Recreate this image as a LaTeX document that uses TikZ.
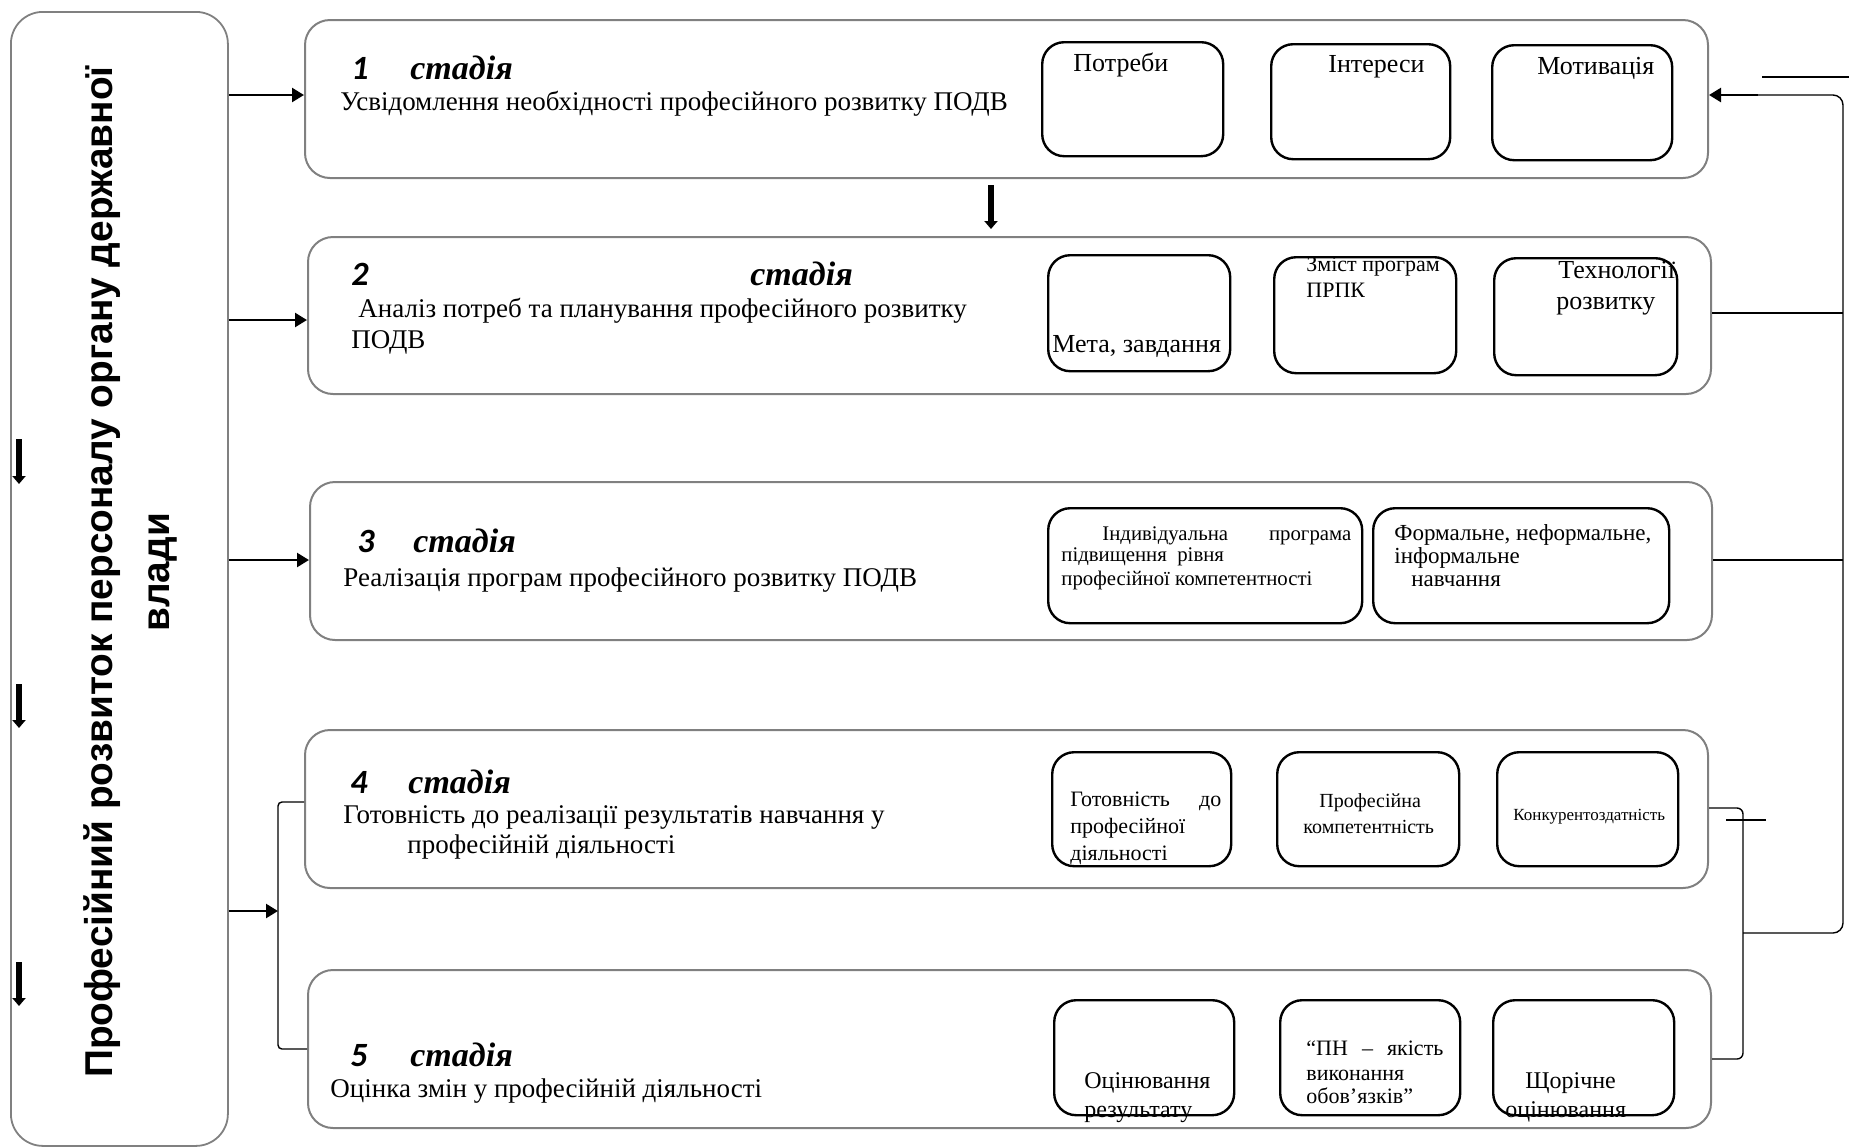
\documentclass[tikz,border=0pt]{standalone}
\usepackage{fontspec}
\setmainfont{Liberation Serif}
\newfontfamily\digf{Carlito}
\newfontfamily\arialf{Liberation Sans}
\usetikzlibrary{arrows.meta}
\definecolor{bgray}{RGB}{128,128,128}
\newcommand\bodyf{\fontsize{13.5}{16}\selectfont}
\newcommand\stlab[2]{\makebox[#1][l]{\digf\bfseries\itshape\fontsize{17}{19}\selectfont #2}{\bfseries\itshape\fontsize{17}{20}\selectfont стадія}}
\begin{document}
\begin{tikzpicture}[x=0.5pt,y=-0.5pt,
  stagebox/.style={draw=bgray, line width=1pt, rounded corners=12.5pt, anchor=north west, inner sep=0pt, minimum width=701.5pt, minimum height=79pt},
  lbox/.style={draw=bgray, line width=0.9pt, rounded corners=16pt, anchor=north west, inner sep=0pt},
  ibox/.style={draw=black, line width=1.2pt, rounded corners=11pt, anchor=north west, inner sep=0pt},
  txt/.style={anchor=base west, inner sep=0pt},
  arr/.style={line width=1.2pt, -{Triangle[length=6pt,width=7pt]}},
  conn/.style={line width=0.7pt},
  bigarr/.style={line width=3pt, -{Triangle[length=4pt,width=6.5pt]}}]
\useasboundingbox (0,0) rectangle (1849,1147);

% left box
\node[lbox, minimum width=108.5pt, minimum height=567pt] (L) at (10,11) {};
\node[rotate=90, align=center, inner sep=0pt, font=\arialf\bfseries\fontsize{19.4}{28.5}\selectfont] (LT) at (130,572) {Професійний розвиток персоналу органу державної\\влади};
\coordinate (d1a) at (19,439); \coordinate (d1b) at (19,484);
\coordinate (d2a) at (19,684); \coordinate (d2b) at (19,728);
\coordinate (d3a) at (19,962); \coordinate (d3b) at (19,1006);
\draw[bigarr] (d1a) -- (d1b);
\draw[bigarr] (d2a) -- (d2b);
\draw[bigarr] (d3a) -- (d3b);

% stage boxes
\node[stagebox] (S1) at (304,19) {};
\node[stagebox, minimum height=78.5pt] (S2) at (307,236) {};
\node[stagebox, minimum width=701pt] (S3) at (309,481) {};
\node[stagebox] (S4) at (304,729) {};
\node[stagebox] (S5) at (307,969) {};

% inner boxes
\node[ibox, minimum width=90.5pt, minimum height=57pt] (B11) at (1041,41) {};
\node[ibox, minimum width=89.5pt, minimum height=57.5pt] (B12) at (1270,43) {};
\node[ibox, minimum width=90pt, minimum height=57.5pt] (B13) at (1491,44) {};
\node[ibox, minimum width=91pt, minimum height=58pt] (B21) at (1047,254) {};
\node[ibox, minimum width=91pt, minimum height=58pt] (B22) at (1273,256) {};
\node[ibox, minimum width=91.5pt, minimum height=58.5pt] (B23) at (1493,257) {};
\node[ibox, minimum width=157pt, minimum height=57.5pt] (B31) at (1047,507) {};
\node[ibox, minimum width=148pt, minimum height=57.5pt] (B32) at (1372,507) {};
\node[ibox, minimum width=89.5pt, minimum height=57pt] (B41) at (1051,751) {};
\node[ibox, minimum width=91pt, minimum height=57pt] (B42) at (1276,751) {};
\node[ibox, minimum width=90.5pt, minimum height=57pt] (B43) at (1496,751) {};
\node[ibox, minimum width=90pt, minimum height=57.5pt] (B51) at (1053,999) {};
\node[ibox, minimum width=90pt, minimum height=57.5pt] (B52) at (1279,999) {};
\node[ibox, minimum width=90.5pt, minimum height=57.5pt] (B53) at (1492,999) {};

% stage texts
\node[txt] (s1l) at (351,79) {\stlab{29.5pt}{1}};
\node[txt, font=\bodyf] (s1t) at (340,110) {Усвідомлення необхідності професійного розвитку ПОДВ};
\node[txt] (s2l) at (351,285) {\stlab{199.5pt}{2}};
\node[txt, font=\bodyf] (s2t) at (358,317) {Аналіз потреб та планування професійного розвитку};
\node[txt, font=\bodyf] (s2u) at (351,348) {ПОДВ};
\node[txt] (s3l) at (357,552) {\stlab{28pt}{3}};
\node[txt, font=\bodyf] (s3t) at (343,586) {Реалізація програм професійного розвитку ПОДВ};
\node[txt] (s4l) at (350,793) {\stlab{29pt}{4}};
\node[txt, font=\bodyf] (s4t) at (343,823) {Готовність до реалізації результатів навчання у};
\node[txt, font=\bodyf] (s4u) at (407,853) {професійній діяльності};
\node[txt] (s5l) at (350,1066) {\stlab{30pt}{5}};
\node[txt, font=\bodyf] (s5t) at (330,1097) {Оцінка змін у професійній діяльності};

% inner texts
\node[txt, font=\fontsize{13}{15}\selectfont] (t11) at (1073,71) {Потреби};
\node[txt, font=\fontsize{13}{15}\selectfont] (t12) at (1328,72) {Інтереси};
\node[txt, font=\fontsize{13}{15}\selectfont] (t13) at (1537,74) {Мотивація};
\node[txt, font=\fontsize{13}{15}\selectfont] (t21) at (1052,352) {Мета, завдання};
\node[txt, font=\fontsize{11}{13}\selectfont] (t22a) at (1306,271) {Зміст програм};
\node[txt, font=\fontsize{11}{13}\selectfont] (t22b) at (1306,297) {ПРПК};
\node[txt, font=\fontsize{13}{15}\selectfont] (t23a) at (1558,278) {Технології};
\node[txt, font=\fontsize{13}{15}\selectfont] (t23b) at (1556,309) {розвитку};
\node[txt, font=\fontsize{10.4}{12}\selectfont] (t31a) at (1102,540) {\makebox[124.5pt][s]{Індивідуальна програма}};
\node[txt, font=\fontsize{10.4}{12}\selectfont] (t31b) at (1061,561) {підвищення\ \ рівня};
\node[txt, font=\fontsize{10.4}{12}\selectfont] (t31c) at (1061,585) {професійної компетентності};
\node[txt, font=\fontsize{11.5}{13}\selectfont] (t32a) at (1394,540) {Формальне, неформальне,};
\node[txt, font=\fontsize{11.5}{13}\selectfont] (t32b) at (1394,563) {інформальне};
\node[txt, font=\fontsize{11.5}{13}\selectfont] (t32c) at (1411,586) {навчання};
\node[txt, font=\fontsize{11}{13}\selectfont] (t41a) at (1070,806) {\makebox[75.5pt][s]{Готовність до}};
\node[txt, font=\fontsize{11}{13}\selectfont] (t41b) at (1070,833) {професійної};
\node[txt, font=\fontsize{11}{13}\selectfont] (t41c) at (1070,860) {діяльності};
\node[txt, font=\fontsize{10}{12}\selectfont] (t42a) at (1319,807) {Професійна};
\node[txt, font=\fontsize{10}{12}\selectfont] (t42b) at (1303,833) {компетентність};
\node[txt, font=\fontsize{8.5}{10}\selectfont] (t43) at (1513,820) {Конкурентоздатність};
\node[txt, font=\fontsize{12}{14}\selectfont] (t51a) at (1084,1088) {Оцінювання};
\node[txt, font=\fontsize{12}{14}\selectfont] (t51b) at (1084,1117) {результату};
\node[txt, font=\fontsize{11}{13}\selectfont] (t52a) at (1306,1055) {\makebox[68.5pt][s]{“ПН – якість}};
\node[txt, font=\fontsize{11}{13}\selectfont] (t52b) at (1306,1080) {виконання};
\node[txt, font=\fontsize{11}{13}\selectfont] (t52c) at (1306,1103) {обов’язків”};
\node[txt, font=\fontsize{12}{14}\selectfont] (t53a) at (1525,1088) {Щорічне};
\node[txt, font=\fontsize{12}{14}\selectfont] (t53b) at (1505,1117) {оцінювання};

% left arrows
\draw[arr] (L.east |- 0,95) -- (S1.west |- 0,95);
\draw[arr] (L.east |- 0,320) -- (S2.west |- 0,320);
\draw[arr] (L.east |- 0,560) -- (S3.west |- 0,560);
\coordinate (bt) at (278,802);
\coordinate (bm) at (278,911);
\coordinate (bb) at (278,1049);
\draw[conn, rounded corners=2pt] (S4.west |- bt) -- (bt) -- (bb) -- (S5.west |- bb);
\draw[arr] (L.east |- bm) -- (bm);

% center arrow
\coordinate (c1) at (991,185);
\coordinate (c2) at (991,229);
\draw[bigarr] (c1) -- (c2);

% right side
\coordinate (rt) at (1743,808);
\coordinate (rb) at (1743,1059);
\coordinate (rm) at (1743,933);
\draw[conn, rounded corners=3pt] (S4.east |- rt) -- (rt) -- (rb) -- (S5.east |- rb);
\coordinate (fb1) at (1843,933);
\coordinate (fb2) at (1843,95);
\coordinate (fb3) at (1758,95);
\draw[conn, rounded corners=5pt] (rm) -- (fb1) -- (fb2) -- (fb3);
\draw[arr] (fb3) -- (S1.east |- fb3);
\coordinate (f2) at (1843,313);
\coordinate (f3) at (1843,560);
\draw[conn] (S2.east |- f2) -- (f2);
\draw[conn] (S3.east |- f3) -- (f3);
\coordinate (ta) at (1762,77);
\coordinate (tb) at (1849,77);
\draw[line width=1pt] (ta) -- (tb);
\coordinate (xa) at (1726,820);
\coordinate (xb) at (1766,820);
\draw[conn] (xa) -- (xb);
\end{tikzpicture}
\end{document}
